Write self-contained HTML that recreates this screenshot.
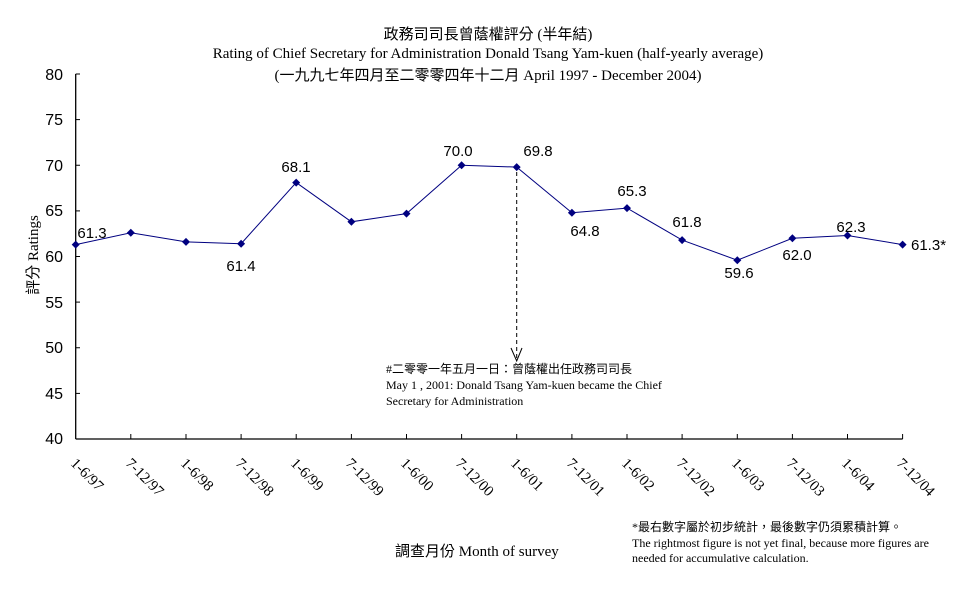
<!DOCTYPE html>
<html><head><meta charset="utf-8"><style>
html,body{margin:0;padding:0;background:#fff;}
svg{display:block;}
.s{font-family:"Liberation Sans","Noto Sans CJK TC",sans-serif;}
.r{font-family:"Liberation Serif","Noto Sans CJK TC",serif;}
</style></head><body>
<svg width="977" height="600" viewBox="0 0 977 600" xmlns="http://www.w3.org/2000/svg">
<g class="r" fill="#000" text-anchor="middle">
<text x="488" y="39" font-size="15">政務司司長曾蔭權評分 (半年結)</text>
<text x="488" y="58" font-size="15">Rating of Chief Secretary for Administration Donald Tsang Yam-kuen  (half-yearly average)</text>
<text x="488" y="80" font-size="15">(一九九七年四月至二零零四年十二月 April 1997 - December 2004)</text>
</g>
<g stroke="#000" stroke-width="1.3" fill="none">
<line x1="75.7" y1="74" x2="75.7" y2="439"/>
<line x1="75.7" y1="439" x2="902.6" y2="439"/>
</g>
<g stroke="#000" stroke-width="1">
<line x1="75.7" y1="74" x2="80" y2="74"/><line x1="75.7" y1="119.6" x2="80" y2="119.6"/>
<line x1="75.7" y1="165.25" x2="80" y2="165.25"/><line x1="75.7" y1="210.9" x2="80" y2="210.9"/>
<line x1="75.7" y1="256.5" x2="80" y2="256.5"/><line x1="75.7" y1="302.1" x2="80" y2="302.1"/>
<line x1="75.7" y1="347.75" x2="80" y2="347.75"/><line x1="75.7" y1="393.4" x2="80" y2="393.4"/>
<line x1="130.8" y1="434" x2="130.8" y2="439"/><line x1="186" y1="434" x2="186" y2="439"/>
<line x1="241.1" y1="434" x2="241.1" y2="439"/><line x1="296.2" y1="434" x2="296.2" y2="439"/>
<line x1="351.4" y1="434" x2="351.4" y2="439"/><line x1="406.5" y1="434" x2="406.5" y2="439"/>
<line x1="461.6" y1="434" x2="461.6" y2="439"/><line x1="516.7" y1="434" x2="516.7" y2="439"/>
<line x1="571.9" y1="434" x2="571.9" y2="439"/><line x1="627" y1="434" x2="627" y2="439"/>
<line x1="682.1" y1="434" x2="682.1" y2="439"/><line x1="737.3" y1="434" x2="737.3" y2="439"/>
<line x1="792.4" y1="434" x2="792.4" y2="439"/><line x1="847.5" y1="434" x2="847.5" y2="439"/>
<line x1="902.6" y1="434" x2="902.6" y2="439"/>
</g>
<g class="s" font-size="16" text-anchor="end" fill="#000">
<text x="63" y="80">80</text><text x="63" y="125">75</text><text x="63" y="171">70</text>
<text x="63" y="216">65</text><text x="63" y="262">60</text><text x="63" y="308">55</text>
<text x="63" y="353">50</text><text x="63" y="399">45</text><text x="63" y="444">40</text>
</g>
<text class="r" font-size="15" transform="translate(38,255) rotate(-90)" text-anchor="middle">評分 Ratings</text>
<g class="r" font-size="15" fill="#000">
<text transform="translate(77,457) rotate(45)" x="0" y="10">1-6/97</text>
<text transform="translate(132,457) rotate(45)" x="0" y="10">7-12/97</text>
<text transform="translate(187,457) rotate(45)" x="0" y="10">1-6/98</text>
<text transform="translate(242,457) rotate(45)" x="0" y="10">7-12/98</text>
<text transform="translate(297,457) rotate(45)" x="0" y="10">1-6/99</text>
<text transform="translate(352,457) rotate(45)" x="0" y="10">7-12/99</text>
<text transform="translate(407,457) rotate(45)" x="0" y="10">1-6/00</text>
<text transform="translate(462,457) rotate(45)" x="0" y="10">7-12/00</text>
<text transform="translate(517,457) rotate(45)" x="0" y="10">1-6/01</text>
<text transform="translate(573,457) rotate(45)" x="0" y="10">7-12/01</text>
<text transform="translate(628,457) rotate(45)" x="0" y="10">1-6/02</text>
<text transform="translate(683,457) rotate(45)" x="0" y="10">7-12/02</text>
<text transform="translate(738,457) rotate(45)" x="0" y="10">1-6/03</text>
<text transform="translate(793,457) rotate(45)" x="0" y="10">7-12/03</text>
<text transform="translate(848,457) rotate(45)" x="0" y="10">1-6/04</text>
<text transform="translate(903,457) rotate(45)" x="0" y="10">7-12/04</text>
</g>
<polyline fill="none" stroke="#000080" stroke-width="1" points="75.7,244.6 130.8,232.8 186,241.9 241.1,243.7 296.2,182.6 351.4,221.8 406.5,213.6 461.6,165.25 516.7,167.1 571.9,212.7 627,208.1 682.1,240.1 737.3,260.2 792.4,238.3 847.5,235.5 902.6,244.6"/>
<g fill="#000080">
<path d="M75.7 240.6l4 4-4 4-4-4z"/><path d="M130.8 228.8l4 4-4 4-4-4z"/><path d="M186 237.9l4 4-4 4-4-4z"/>
<path d="M241.1 239.7l4 4-4 4-4-4z"/><path d="M296.2 178.6l4 4-4 4-4-4z"/><path d="M351.4 217.8l4 4-4 4-4-4z"/>
<path d="M406.5 209.6l4 4-4 4-4-4z"/><path d="M461.6 161.25l4 4-4 4-4-4z"/><path d="M516.7 163.1l4 4-4 4-4-4z"/>
<path d="M571.9 208.7l4 4-4 4-4-4z"/><path d="M627 204.1l4 4-4 4-4-4z"/><path d="M682.1 236.1l4 4-4 4-4-4z"/>
<path d="M737.3 256.2l4 4-4 4-4-4z"/><path d="M792.4 234.3l4 4-4 4-4-4z"/><path d="M847.5 231.5l4 4-4 4-4-4z"/>
<path d="M902.6 240.6l4 4-4 4-4-4z"/>
</g>
<g class="s" font-size="15" fill="#000" text-anchor="middle">
<text x="92" y="238">61.3</text>
<text x="241" y="271">61.4</text>
<text x="296" y="172">68.1</text>
<text x="458" y="156">70.0</text>
<text x="538" y="156">69.8</text>
<text x="585" y="236">64.8</text>
<text x="632" y="196">65.3</text>
<text x="687" y="227">61.8</text>
<text x="739" y="278">59.6</text>
<text x="797" y="260">62.0</text>
<text x="851" y="232">62.3</text>
<text x="911" y="250" text-anchor="start">61.3*</text>
</g>
<line x1="516.7" y1="172" x2="516.7" y2="360" stroke="#000" stroke-width="1" stroke-dasharray="4,3"/>
<path d="M511 348 L516.7 361 L522 348" fill="none" stroke="#000" stroke-width="1"/>
<g class="r" font-size="12" fill="#000">
<text x="386" y="373">#二零零一年五月一日：曾蔭權出任政務司司長</text>
<text x="386" y="389">May 1 , 2001: Donald  Tsang Yam-kuen became the Chief</text>
<text x="386" y="405">Secretary for Administration</text>
</g>
<text class="r" x="395" y="556" font-size="15">調查月份 Month of survey</text>
<g class="r" font-size="12" fill="#000">
<text x="632" y="531">*最右數字屬於初步統計，最後數字仍須累積計算。</text>
<text x="632" y="547">The rightmost figure is not yet final, because more figures are</text>
<text x="632" y="562">needed for accumulative calculation.</text>
</g>
</svg>
</body></html>
